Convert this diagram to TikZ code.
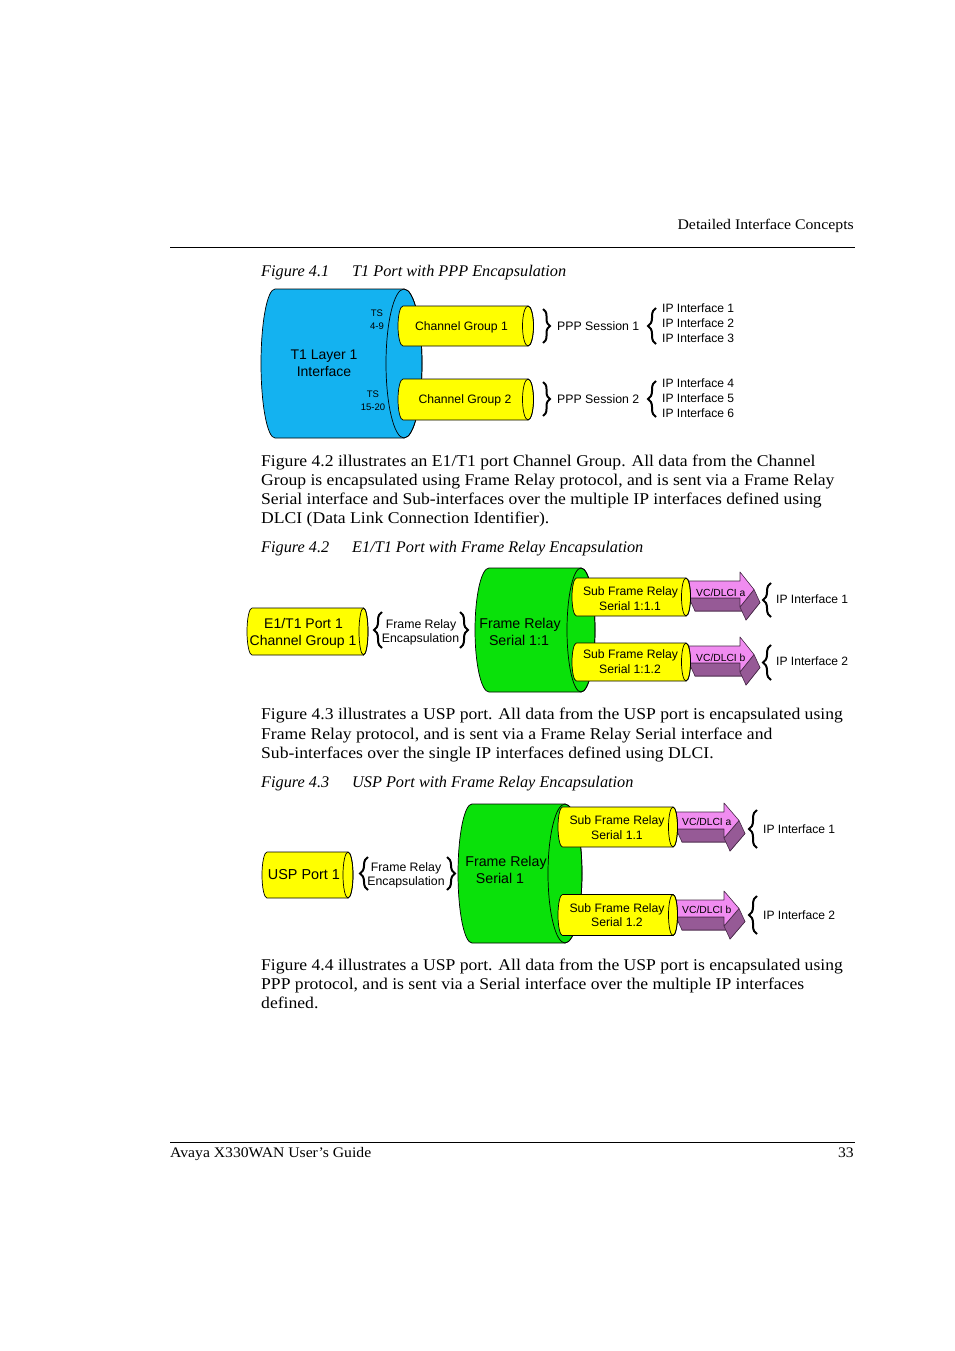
\documentclass[tikz,border=0pt]{standalone}
\usepackage{fontspec}
\setmainfont{Liberation Serif}[FakeStretch=1.074]
\newfontfamily\capfont{Liberation Serif}
\newfontfamily\dia{Liberation Sans}
\usetikzlibrary{decorations.pathreplacing}
\definecolor{blueC}{RGB}{20,178,240}
\definecolor{yelC}{RGB}{255,255,0}
\definecolor{grnC}{RGB}{10,225,10}
\definecolor{pinkC}{RGB}{240,140,240}
\definecolor{purpC}{RGB}{150,90,150}
\definecolor{edgeC}{RGB}{70,40,70}
\newcommand{\setfs}[1]{\fontsize{#1}{#1}\selectfont}
% horizontal cylinder: left x, right-ellipse centre x, centre y, half height, left rx, right rx, colour
\newcommand{\hcyl}[7]{%
  \filldraw[fill=#7,draw=black,line width=0.7pt] (#1+#5,#3-#4) -- (#2,#3-#4)
    arc[start angle=90,end angle=-90,x radius=#6pt,y radius=#4pt] -- (#1+#5,#3+#4)
    arc[start angle=270,end angle=90,x radius=#5pt,y radius=#4pt] -- cycle;
  \draw[line width=0.7pt] (#2,#3) ellipse[x radius=#6pt,y radius=#4pt];}
% 3D block arrow: x0, xs (head base), ytop, ybot, xtip, head top
\newcommand{\vcarr}[6]{%
  \pgfmathsetmacro\arHB{#4+#3-#6}\pgfmathsetmacro\arYM{(#3+#4)/2}%
  \filldraw[fill=purpC,draw=edgeC,line width=0.6pt,line join=round]
    (#1+6,#3+13) -- (#2+6,#3+13) -- (#2+6,#6+13) -- (#5+6,\arYM+13) -- (#2+6,\arHB+13) -- (#2+6,#4+13) -- (#1+6,#4+13) -- cycle;
  \filldraw[fill=purpC,draw=edgeC,line width=0.6pt,line join=round]
    (#1,#4) -- (#2,#4) -- (#2+6,#4+13) -- (#1+6,#4+13) -- cycle;
  \filldraw[fill=purpC,draw=edgeC,line width=0.6pt,line join=round]
    (#2,\arHB) -- (#5,\arYM) -- (#5+6,\arYM+13) -- (#2+6,\arHB+13) -- cycle;
  \filldraw[fill=pinkC,draw=edgeC,line width=0.6pt,line join=round]
    (#1,#3) -- (#2,#3) -- (#2,#6) -- (#5,\arYM) -- (#2,\arHB) -- (#2,#4) -- (#1,#4) -- cycle;}
\tikzset{
  tx/.style={inner sep=0pt,text height=0.66em,text depth=0pt},
  body/.style={tx,anchor=west,node font=\setfs{16.4}},
  figcap/.style={tx,anchor=west,node font=\capfont\setfs{16.25}\itshape},
  dg/.style={tx,node font=\dia\setfs{#1}},
  rbr/.style={decorate,decoration={brace,amplitude=#1},line width=2pt},
}
\begin{document}
\begin{tikzpicture}[x=1pt,y=-1pt]
\useasboundingbox (0,0) rectangle (954,1351);
\fill[white] (0,0) rectangle (954,1351);
% header / footer
\node[tx,anchor=east,node font=\setfs{14.7}] (hdr) at (854,225) {Detailed Interface Concepts};
\draw[line width=1pt] (170,247) coordinate (hl) -- (855,247) coordinate (hr);
\draw[line width=0.7pt] (170,1142) coordinate (fl) -- (855,1142) coordinate (fr);
\node[tx,anchor=west,node font=\setfs{14.6}] (ftl) at (170,1153) {Avaya X330WAN User’s Guide};
\node[tx,anchor=east,node font=\setfs{14.6}] (ftr) at (854,1153) {33};

% ---------- Figure 4.1
\node[figcap] (c41a) at (261,271) {Figure 4.1};
\node[figcap] (c41b) at (352,271) {T1 Port with PPP Encapsulation};
\hcyl{261}{404}{363.5}{74.5}{14}{18}{blueC}
\hcyl{398}{528}{326}{20}{5}{5.5}{yelC}
\hcyl{398}{528}{399.5}{20.5}{5}{5.5}{yelC}
\node[dg=9.5] (ts1) at (377,313) {TS};
\node[dg=9.5] (ts1b) at (377,326) {4-9};
\node[dg=9.5] (ts2) at (373,394) {TS};
\node[dg=9.5] (ts2b) at (373,407) {15-20};
\node[dg=14] (t1a) at (324,355) {T1 Layer 1};
\node[dg=14] (t1b) at (324,372) {Interface};
\node[dg=12.2] (cg1) at (461.5,326) {Channel Group 1};
\node[dg=12.2] (cg2) at (465,399) {Channel Group 2};
\draw[rbr=7pt] (543,309) coordinate (b1t) -- (543,343) coordinate (b1b);
\draw[rbr=7pt] (543,382) coordinate (b2t) -- (543,416) coordinate (b2b);
\node[dg=12.3,anchor=west] (pp1) at (557,326) {PPP Session 1};
\node[dg=12.3,anchor=west] (pp2) at (557,399) {PPP Session 2};
\draw[rbr=8pt] (656,344) coordinate (b3b) -- (656,308) coordinate (b3t);
\draw[rbr=8pt] (656,417) coordinate (b4b) -- (656,381) coordinate (b4t);
\node[dg=12.1,anchor=west] (ip1) at (662,309) {IP Interface 1};
\node[dg=12.1,anchor=west] (ip2) at (662,324) {IP Interface 2};
\node[dg=12.1,anchor=west] (ip3) at (662,339) {IP Interface 3};
\node[dg=12.1,anchor=west] (ip4) at (662,384) {IP Interface 4};
\node[dg=12.1,anchor=west] (ip5) at (662,399) {IP Interface 5};
\node[dg=12.1,anchor=west] (ip6) at (662,414) {IP Interface 6};

% ---------- text
\node[body] (p1a) at (261,461) {Figure 4.2 illustrates an E1/T1 port Channel Group. All data from the Channel};
\node[body] (p1b) at (261,480) {Group is encapsulated using Frame Relay protocol, and is sent via a Frame Relay};
\node[body] (p1c) at (261,499) {Serial interface and Sub-interfaces over the multiple IP interfaces defined using};
\node[body] (p1d) at (261,518) {DLCI (Data Link Connection Identifier).};
\node[figcap] (c42a) at (261,547) {Figure 4.2};
\node[figcap] (c42b) at (352,547) {E1/T1 Port with Frame Relay Encapsulation};

% ---------- Figure 4.2
\hcyl{247}{363.5}{631.5}{23.5}{5}{4.5}{yelC}
\node[dg=14] (e1a) at (303.5,624) {E1/T1 Port 1};
\node[dg=14] (e1b) at (303,641) {Channel Group 1};
\draw[rbr=8pt] (382,648) coordinate (b5b) -- (382,612) coordinate (b5t);
\node[dg=12.3] (fr1a) at (421,624) {Frame Relay};
\node[dg=12.3] (fr1b) at (420.5,638) {Encapsulation};
\draw[rbr=8pt] (460,612) coordinate (b6t) -- (460,648) coordinate (b6b);
\hcyl{475}{581}{630}{62}{14}{14}{grnC}
\node[dg=14.2] (g1a) at (520,624) {Frame Relay};
\node[dg=14.2] (g1b) at (519,641) {Serial 1:1};
\vcarr{689}{740}{581}{598}{754}{572}
\vcarr{689}{740}{646}{663}{754}{637}
\hcyl{572}{686}{597}{19}{4.5}{4.5}{yelC}
\hcyl{572}{686}{662}{19}{4.5}{4.5}{yelC}
\node[dg=12.2] (s1a) at (630.5,591) {Sub Frame Relay};
\node[dg=12.2] (s1b) at (630,606) {Serial 1:1.1};
\node[dg=12.2] (s2a) at (630.5,654) {Sub Frame Relay};
\node[dg=12.2] (s2b) at (630,669) {Serial 1:1.2};
\node[dg=10.3,anchor=west] (v1) at (696,593) {VC/DLCI a};
\node[dg=10.3,anchor=west] (v2) at (696,658) {VC/DLCI b};
\draw[rbr=8pt] (771,617) coordinate (b7b) -- (771,583) coordinate (b7t);
\draw[rbr=8pt] (771,680) coordinate (b8b) -- (771,645) coordinate (b8t);
\node[dg=12.1,anchor=west] (ia1) at (776,600) {IP Interface 1};
\node[dg=12.1,anchor=west] (ia2) at (776,662) {IP Interface 2};

% ---------- text
\node[body] (p2a) at (261,714) {Figure 4.3 illustrates a USP port. All data from the USP port is encapsulated using};
\node[body] (p2b) at (261,734) {Frame Relay protocol, and is sent via a Frame Relay Serial interface and};
\node[body] (p2c) at (261,753) {Sub-interfaces over the single IP interfaces defined using DLCI.};
\node[figcap] (c43a) at (261,782) {Figure 4.3};
\node[figcap] (c43b) at (352,782) {USP Port with Frame Relay Encapsulation};

% ---------- Figure 4.3
\hcyl{262}{348}{875}{23}{5}{5}{yelC}
\node[dg=14.4] (usp) at (304,875) {USP Port 1};
\draw[rbr=8pt] (368,890) coordinate (b9b) -- (368,857) coordinate (b9t);
\node[dg=12.3] (fr2a) at (406,867) {Frame Relay};
\node[dg=12.3] (fr2b) at (406,881) {Encapsulation};
\draw[rbr=8pt] (447,857) coordinate (b10t) -- (447,890) coordinate (b10b);
\hcyl{458}{565}{873.5}{69.5}{14}{17}{grnC}
\node[dg=14.2] (g2a) at (506,862) {Frame Relay};
\node[dg=14.2] (g2b) at (500,879) {Serial 1};
\vcarr{676}{724}{812}{829}{739}{803}
\vcarr{676}{724}{900}{917}{739}{891}
\hcyl{558}{673}{827}{20}{4.5}{4.5}{yelC}
\hcyl{558}{673}{915}{20.5}{4.5}{4.5}{yelC}
\node[dg=12.2] (s3a) at (617,820) {Sub Frame Relay};
\node[dg=12.2] (s3b) at (617,835) {Serial 1.1};
\node[dg=12.2] (s4a) at (617,908) {Sub Frame Relay};
\node[dg=12.2] (s4b) at (617,922) {Serial 1.2};
\node[dg=10.3,anchor=west] (v3) at (682,822) {VC/DLCI a};
\node[dg=10.3,anchor=west] (v4) at (682,910) {VC/DLCI b};
\draw[rbr=8pt] (757,848) coordinate (b11b) -- (757,810) coordinate (b11t);
\draw[rbr=8pt] (757,934) coordinate (b12b) -- (757,896) coordinate (b12t);
\node[dg=12.1,anchor=west] (ib1) at (763,829) {IP Interface 1};
\node[dg=12.1,anchor=west] (ib2) at (763,915) {IP Interface 2};

% ---------- text
\node[body] (p3a) at (261,965) {Figure 4.4 illustrates a USP port. All data from the USP port is encapsulated using};
\node[body] (p3b) at (261,984) {PPP protocol, and is sent via a Serial interface over the multiple IP interfaces};
\node[body] (p3c) at (261,1003) {defined.};
\end{tikzpicture}
\end{document}
